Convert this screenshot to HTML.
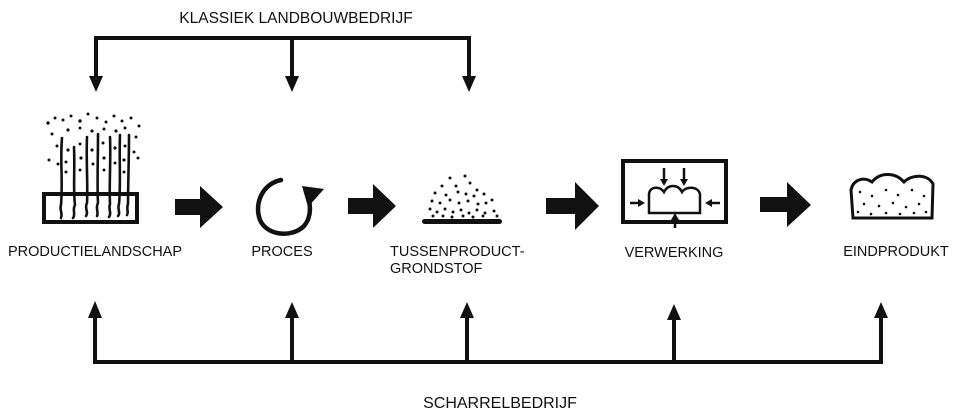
<!DOCTYPE html>
<html><head><meta charset="utf-8"><style>
html,body{margin:0;padding:0;background:#fff;width:960px;height:417px;overflow:hidden}
text{font-family:"Liberation Sans",Arial,sans-serif;font-size:14.5px;fill:#111}
</style></head><body>
<svg width="960" height="417" viewBox="0 0 960 417" xmlns="http://www.w3.org/2000/svg">
<text x="296" y="23" text-anchor="middle" style="font-size:15.5px">KLASSIEK LANDBOUWBEDRIJF</text>
<g stroke="#111" stroke-width="4" fill="none">
<path d="M96 78 V38 H469 V78"/>
<path d="M292 38 V78"/>
</g>
<g fill="#111">
<polygon points="89,76 103,76 96,92"/>
<polygon points="285,76 299,76 292,92"/>
<polygon points="462,76 476,76 469,92"/>
</g>
<g stroke="#111" stroke-width="4" fill="none">
<path d="M95 316 V362 H881 V316"/>
<path d="M292 316 V362 M467 316 V362 M674 316 V362"/>
</g>
<g fill="#111">
<polygon points="88,318 102,318 95,301"/>
<polygon points="285,318 299,318 292,302"/>
<polygon points="460,318 474,318 467,302"/>
<polygon points="667,320 681,320 674,304"/>
<polygon points="874,318 888,318 881,302"/>
</g>
<text x="500" y="408" text-anchor="middle" style="font-size:16px">SCHARRELBEDRIJF</text>
<g fill="#111">
<polygon points="175,199 200,199 200,186 223,207 200,228 200,215 175,215"/>
<polygon points="348,198 373,198 373,184 396,206 373,228 373,214 348,214"/>
<polygon points="546,198 575,198 575,182 599,206 575,230 575,214 546,214"/>
<polygon points="760,197 787,197 787,182 811,205 787,227 787,212 760,212"/>
</g>
<rect x="44" y="194" width="93" height="28" fill="none" stroke="#111" stroke-width="4"/>
<g stroke="#111" stroke-width="2.6" fill="none" stroke-linecap="round">
<path d="M62 138 C60 160 63 180 61 205 C59 210 63 212 61 218"/>
<path d="M74 147 C75 170 73 190 75 205 C72 210 76 214 73 218"/>
<path d="M87 137 C86 160 88 185 87 203 C84 208 89 212 86 216"/>
<path d="M98 134 C98 160 97 185 98 203 C95 208 99 212 97 216"/>
<path d="M110 137 C111 160 109 185 110 204 C108 209 112 213 109 217"/>
<path d="M120 135 C119 160 121 185 119 204 C117 209 121 213 118 216"/>
<path d="M129 135 C129 160 128 185 128 204 C126 209 129 212 127 215"/>
</g>
<g fill="#111">
<circle cx="48" cy="123" r="1.7"/><circle cx="55" cy="118" r="1.5"/><circle cx="63" cy="120" r="1.5"/><circle cx="71" cy="116" r="1.5"/><circle cx="80" cy="121" r="1.7"/><circle cx="88" cy="114" r="1.5"/><circle cx="97" cy="118" r="1.5"/><circle cx="106" cy="122" r="1.5"/><circle cx="114" cy="116" r="1.5"/><circle cx="122" cy="121" r="1.5"/><circle cx="131" cy="118" r="1.5"/><circle cx="139" cy="126" r="1.5"/>
<circle cx="52" cy="134" r="1.5"/><circle cx="68" cy="130" r="1.6"/><circle cx="80" cy="128" r="1.5"/><circle cx="92" cy="131" r="1.6"/><circle cx="104" cy="129" r="1.5"/><circle cx="116" cy="131" r="1.6"/><circle cx="125" cy="128" r="1.5"/><circle cx="136" cy="137" r="1.5"/>
<circle cx="57" cy="146" r="1.5"/><circle cx="68" cy="150" r="1.6"/><circle cx="80" cy="144" r="1.5"/><circle cx="92" cy="150" r="1.6"/><circle cx="103" cy="143" r="1.5"/><circle cx="115" cy="148" r="1.6"/><circle cx="125" cy="146" r="1.5"/><circle cx="134" cy="152" r="1.5"/>
<circle cx="49" cy="160" r="1.5"/><circle cx="66" cy="162" r="1.5"/><circle cx="81" cy="158" r="1.6"/><circle cx="93" cy="164" r="1.5"/><circle cx="104" cy="158" r="1.6"/><circle cx="115" cy="163" r="1.5"/><circle cx="124" cy="160" r="1.6"/><circle cx="138" cy="158" r="1.5"/><circle cx="66" cy="172" r="1.5"/><circle cx="80" cy="170" r="1.5"/><circle cx="104" cy="170" r="1.5"/><circle cx="124" cy="172" r="1.5"/><circle cx="58" cy="164" r="1.5"/>
</g>
<path d="M281 180 C262 184 254 204 260 220 C267 236 292 238 304 226 C310 219 311 210 309 200" fill="none" stroke="#111" stroke-width="4.5" stroke-linecap="round"/>
<polygon points="302,186 324,189 308,207" fill="#111"/>
<rect x="422" y="219" width="80" height="5" rx="2.5" fill="#111"/>
<g fill="#111">
<circle cx="450" cy="178" r="1.5"/><circle cx="465" cy="176" r="1.5"/><circle cx="442" cy="186" r="1.5"/><circle cx="456" cy="186" r="1.5"/><circle cx="470" cy="183" r="1.5"/><circle cx="477" cy="190" r="1.5"/>
<circle cx="435" cy="193" r="1.5"/><circle cx="446" cy="195" r="1.5"/><circle cx="458" cy="192" r="1.5"/><circle cx="466" cy="194" r="1.5"/><circle cx="474" cy="196" r="1.5"/><circle cx="484" cy="194" r="1.5"/><circle cx="492" cy="200" r="1.5"/>
<circle cx="432" cy="201" r="1.5"/><circle cx="440" cy="203" r="1.5"/><circle cx="450" cy="200" r="1.5"/><circle cx="459" cy="203" r="1.5"/><circle cx="468" cy="201" r="1.5"/><circle cx="478" cy="204" r="1.5"/><circle cx="486" cy="203" r="1.5"/>
<circle cx="430" cy="209" r="1.5"/><circle cx="437" cy="212" r="1.5"/><circle cx="445" cy="209" r="1.5"/><circle cx="453" cy="212" r="1.5"/><circle cx="461" cy="210" r="1.5"/><circle cx="469" cy="213" r="1.5"/><circle cx="477" cy="210" r="1.5"/><circle cx="485" cy="213" r="1.5"/><circle cx="494" cy="211" r="1.5"/>
<circle cx="433" cy="216" r="1.5"/><circle cx="443" cy="216" r="1.5"/><circle cx="452" cy="217" r="1.5"/><circle cx="463" cy="216" r="1.5"/><circle cx="473" cy="217" r="1.5"/><circle cx="483" cy="216" r="1.5"/><circle cx="497" cy="216" r="1.5"/>
</g>
<rect x="623" y="161" width="103" height="61" fill="none" stroke="#111" stroke-width="4"/>
<path d="M649 213 V194 C650 186 660 186 664 192 C668 184 678 184 682 192 C686 186 698 186 700 194 V213 Z" fill="none" stroke="#111" stroke-width="2.5"/>
<g stroke="#111" stroke-width="2.5" fill="#111">
<path d="M664 168 V181"/><polygon points="660,179 668,179 664,186" stroke="none"/>
<path d="M684 168 V181"/><polygon points="680,179 688,179 684,186" stroke="none"/>
<path d="M630 203 H640"/><polygon points="638,199 638,207 645,203" stroke="none"/>
<path d="M720 203 H710"/><polygon points="712,199 712,207 705,203" stroke="none"/>
<path d="M675 228 V218"/><polygon points="671,220 679,220 675,213" stroke="none"/>
</g>
<path d="M853 218 L851 190 C853 180 863 176 872 182 C880 172 895 172 904 182 C912 174 928 174 933 184 L932 218 Z" fill="none" stroke="#111" stroke-width="3"/>
<g fill="#111">
<circle cx="860" cy="192" r="1.3"/><circle cx="872" cy="196" r="1.3"/><circle cx="886" cy="190" r="1.3"/><circle cx="898" cy="195" r="1.3"/><circle cx="912" cy="190" r="1.3"/><circle cx="924" cy="196" r="1.3"/>
<circle cx="864" cy="204" r="1.3"/><circle cx="879" cy="206" r="1.3"/><circle cx="893" cy="203" r="1.3"/><circle cx="906" cy="207" r="1.3"/><circle cx="919" cy="204" r="1.3"/>
<circle cx="858" cy="212" r="1.3"/><circle cx="871" cy="214" r="1.3"/><circle cx="886" cy="213" r="1.3"/><circle cx="900" cy="214" r="1.3"/><circle cx="914" cy="213" r="1.3"/><circle cx="926" cy="212" r="1.3"/>
</g>
<text x="95" y="256" text-anchor="middle">PRODUCTIELANDSCHAP</text>
<text x="282" y="256" text-anchor="middle">PROCES</text>
<text x="390" y="256">TUSSENPRODUCT-</text>
<text x="390" y="273">GRONDSTOF</text>
<text x="674" y="257" text-anchor="middle">VERWERKING</text>
<text x="896" y="256" text-anchor="middle">EINDPRODUKT</text>
</svg>
</body></html>
